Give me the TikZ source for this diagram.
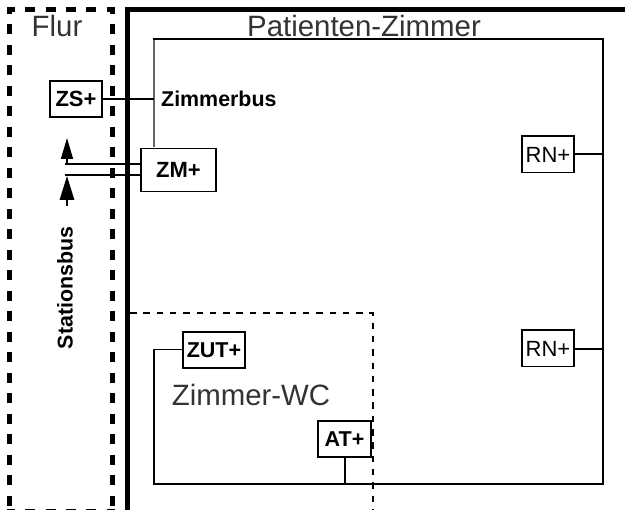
\documentclass[tikz,border=0pt]{standalone}
\usepackage{fontspec}
\setmainfont{Liberation Sans}
\usetikzlibrary{arrows.meta}
\definecolor{lighttext}{gray}{0.2}
\tikzset{
  x=1pt,y=-1pt,
  device/.style={draw=black,line width=1.5pt,fill=white,inner sep=0pt,font=\fontsize{22}{24}\selectfont\bfseries},
  wire/.style={draw=black,line width=1.5pt},
  greywire/.style={draw=black!60,line width=1.4pt},
  roomlabel/.style={inner sep=0pt,text=lighttext,font=\fontsize{29.4}{31}\selectfont},
  buslabel/.style={inner sep=0pt,font=\fontsize{21.4}{23}\selectfont\bfseries},
  flurdash/.style={line width=5pt},
  wcdash/.style={line width=1.5pt,dash pattern=on 6.5pt off 6.8pt},
  wall/.style={line width=5pt}
}
\begin{document}
\begin{tikzpicture}
\clip (0,0) rectangle (625,510);
\fill[white] (0,0) rectangle (625,510);
% Flur
\draw[flurdash,dash pattern=on 10pt off 10.5pt,dash phase=5.5pt] (9.5,9.5) -- (9.5,512);
\draw[flurdash,dash pattern=on 10pt off 10.5pt,dash phase=5.5pt] (112.5,9.5) -- (112.5,512);
\draw[flurdash,dash pattern=on 10pt off 10.3pt,dash phase=2pt] (7,9.5) -- (115,9.5);
\draw[flurdash,dash pattern=on 10pt off 10.3pt,dash phase=2pt] (7,511.5) -- (115,511.5);
% Room wall
\draw[wall] (630,9.5) -- (127,9.5) -- (127,513) -- (630,513);
% WC
\draw[wcdash] (130,313) -- (373,313) -- (373,510);
% named points
\coordinate (tl) at (154,39);
\coordinate (tr) at (603,39);
\coordinate (br) at (603,484);
\coordinate (bl) at (154,484);
\coordinate (zutbend) at (154,349.5);
\coordinate (zsj) at (154,99);
\coordinate (zmtop) at (154,147);
\coordinate (atj) at (345,484);
\coordinate (rn1j) at (603,154);
\coordinate (rn2j) at (603,349);
\coordinate (stA) at (65,164);
\coordinate (stB) at (65,175);
\coordinate (arAbase) at (67,164);
\coordinate (arAtip) at (67,138);
\coordinate (arBbase) at (67,206);
\coordinate (arBtip) at (67,176);
% wires
\draw[greywire] (tl) -- (zmtop);
\draw[wire,line cap=rect] (tl) -- (tr) -- (br) -- (bl) -- (zutbend);
% devices
\node[device,minimum width=52pt,minimum height=36pt] (zs) at (76,99) {ZS+};
\node[device,minimum width=75pt,minimum height=43pt] (zm) at (178.5,170) {ZM+};
\node[device,minimum width=52pt,minimum height=36.5pt,font=\fontsize{22}{24}\selectfont] (rn1) at (548,154.5) {RN+};
\node[device,minimum width=52pt,minimum height=36.5pt,font=\fontsize{22}{24}\selectfont] (rn2) at (548,348.5) {RN+};
\node[device,minimum width=62pt,minimum height=36pt,font=\fontsize{21.5}{24}\selectfont\bfseries] (zut) at (214,350) {ZUT+};
\node[device,minimum width=53pt,minimum height=36pt,font=\fontsize{21.5}{24}\selectfont\bfseries] (at) at (344.5,439) {AT+};
% connectors
\draw[wire] (zs.east) -- (zsj);
\draw[wire] (zut.west |- zutbend) -- (zutbend);
\draw[wire] (at.south -| atj) -- (atj);
\draw[wire] (rn1.east |- rn1j) -- (rn1j);
\draw[wire] (rn2.east |- rn2j) -- (rn2j);
\draw[wire] (stA) -- (stA -| zm.west);
\draw[wire] (stB) -- (stB -| zm.west);
\draw[wire,-{Triangle[length=21pt,width=12pt]}] (arAbase) -- (arAtip);
\draw[wire,-{Triangle[length=24pt,width=14.5pt]}] (arBbase) -- (arBtip);
% labels
\node[roomlabel] (flur) at (57,26) {Flur};
\node[roomlabel] (patient) at (364,26) {Patienten-Zimmer};
\node[roomlabel] (wc) at (251,395) {Zimmer-WC};
\node[buslabel,anchor=west] (zbus) at (161,99) {Zimmerbus};
\node[buslabel,rotate=90] (sbus) at (65,288) {Stationsbus};
\end{tikzpicture}
\end{document}
